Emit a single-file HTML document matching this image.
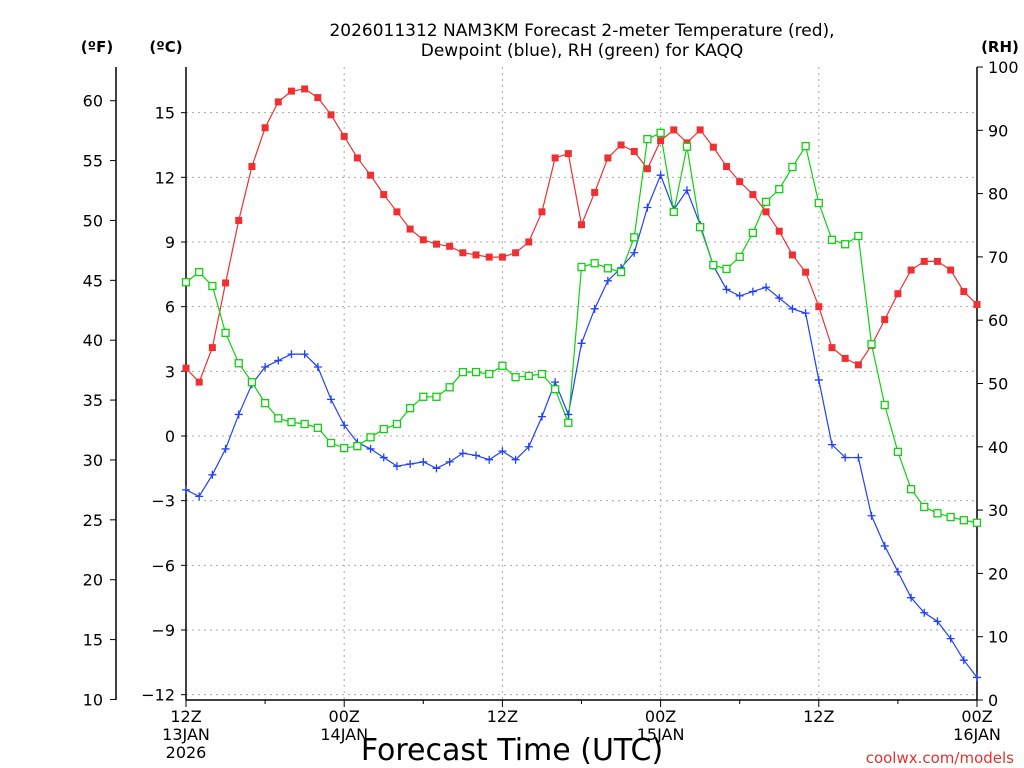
<!DOCTYPE html>
<html><head><meta charset="utf-8">
<style>
body{margin:0;background:#fff;}
svg{display:block;font-family:"DejaVu Sans","Liberation Sans",sans-serif;}
</style></head>
<body>
<svg id="chart" width="1024" height="768" viewBox="0 0 1024 768" xmlns="http://www.w3.org/2000/svg">
<rect width="1024" height="768" fill="#fff"/>
<text x="582" y="36" font-size="17" text-anchor="middle">2026011312 NAM3KM Forecast 2-meter Temperature (red),</text>
<text x="582" y="56" font-size="17" text-anchor="middle">Dewpoint (blue), RH (green) for KAQQ</text>
<text x="97" y="52" font-size="15" font-weight="bold" text-anchor="middle">(ºF)</text>
<text x="166" y="52" font-size="15" font-weight="bold" text-anchor="middle">(ºC)</text>
<text x="1000" y="52" font-size="15" font-weight="bold" text-anchor="middle">(RH)</text>
<text x="512" y="760" font-size="30" text-anchor="middle">Forecast Time (UTC)</text>
<text x="1014" y="763" font-size="15" fill="#e53030" text-anchor="end">coolwx.com/models</text>
<g id="grid"></g><g id="axes"></g><g id="series"></g>
</svg>
<script>
const hours = [0,1,2,3,4,5,6,7,8,9,10,11,12,13,14,15,16,17,18,19,20,21,22,23,24,25,26,27,28,29,30,31,32,33,34,35,36,37,38,39,40,41,42,43,44,45,46,47,48,49,50,51,52,53,54,55,56,57,58,59,60];
const tempC = [3.15,2.5,4.1,7.1,10.0,12.5,14.3,15.5,16.0,16.1,15.7,14.9,13.9,12.9,12.1,11.2,10.4,9.6,9.1,8.9,8.8,8.5,8.4,8.3,8.3,8.5,9.0,10.4,12.9,13.1,9.8,11.3,12.9,13.5,13.2,12.4,13.7,14.2,13.6,14.2,13.4,12.5,11.8,11.2,10.4,9.5,8.4,7.6,6.0,4.1,3.6,3.3,4.2,5.4,6.6,7.7,8.1,8.1,7.7,6.7,6.1];
const dewC = [-2.5,-2.8,-1.8,-0.6,1.0,2.4,3.2,3.5,3.8,3.8,3.2,1.7,0.5,-0.3,-0.6,-1.0,-1.4,-1.3,-1.2,-1.5,-1.2,-0.8,-0.9,-1.1,-0.7,-1.1,-0.5,0.9,2.5,1.0,4.3,5.9,7.2,7.8,8.5,10.6,12.1,10.5,11.4,9.8,7.9,6.8,6.5,6.7,6.9,6.4,5.9,5.7,2.6,-0.4,-1.0,-1.0,-3.7,-5.1,-6.3,-7.5,-8.2,-8.6,-9.4,-10.4,-11.2];
const rh = [66,67.6,65.4,58,53.2,50.2,46.9,44.5,43.9,43.6,43,40.6,39.8,40.1,41.5,42.8,43.6,46.1,47.9,47.9,49.4,51.8,51.8,51.5,52.8,51,51.2,51.5,49.1,43.8,68.4,69,68.2,67.6,73.1,88.6,89.6,77.1,87.4,74.7,68.7,68.1,70,73.8,78.7,80.7,84.2,87.5,78.5,72.7,72,73.3,56.2,46.6,39.2,33.3,30.5,29.5,28.9,28.4,28];
const cTicks = [15,12,9,6,3,0,-3,-6,-9,-12];
const fTicks = [60,55,50,45,40,35,30,25,20,15,10];
const rhTicks = [100,90,80,70,60,50,40,30,20,10,0];
const xTickHours = [0,12,24,36,48,60];
const xTickLabels = [["12Z","13JAN","2026"],["00Z","14JAN"],["12Z"],["00Z","15JAN"],["12Z"],["00Z","16JAN"]];

const NS="http://www.w3.org/2000/svg";
const L=186,R=977,T=67,B=700;
const xS=h=>L+(R-L)*h/60;
const yC=c=>436-c*(582/27);
const yF=f=>yC((f-32)*5/9);
const yRH=v=>B-(B-T)*v/100;
function mk(tag,parent,attrs){const e=document.createElementNS(NS,tag);for(const k in attrs)e.setAttribute(k,attrs[k]);parent.appendChild(e);return e;}
const grid=document.getElementById('grid'),axes=document.getElementById('axes'),ser=document.getElementById('series');

cTicks.forEach(c=>{
  const y=yC(c);
  const g=mk('line',grid,{x1:L,x2:R,y1:y,y2:y,stroke:'#aaa','stroke-dasharray':'2,4'});
  
  
  mk('line',axes,{x1:L-5,x2:L,y1:y,y2:y,stroke:'#000'});
  const t=mk('text',axes,{x:175,y:y+6,'font-size':16,'text-anchor':'end'});t.textContent=(c<0?'−'+(-c):c);
  
  
});
xTickHours.slice(1,5).forEach(h=>{
  const g=mk('line',grid,{x1:xS(h),x2:xS(h),y1:T,y2:B,stroke:'#aaa','stroke-dasharray':'2,4'});
  
  
});
fTicks.forEach(f=>{
  const y=yF(f);
  mk('line',axes,{x1:110,x2:116,y1:y,y2:y,stroke:'#000'});
  const t=mk('text',axes,{x:103,y:y+6,'font-size':16,'text-anchor':'end'});t.textContent=f;
  
  
});
rhTicks.forEach(v=>{
  const y=yRH(v);
  mk('line',axes,{x1:R,x2:R+6,y1:y,y2:y,stroke:'#000'});
  const t=mk('text',axes,{x:988,y:y+6,'font-size':16,'text-anchor':'start'});t.textContent=v;
  
  
});
for(let h=0;h<=60;h+=6){mk('line',axes,{x1:xS(h),x2:xS(h),y1:B,y2:B+(h%12?4:7),stroke:'#000'});}
xTickHours.forEach((h,i)=>{
  xTickLabels[i].forEach((s,j)=>{
    const t=mk('text',axes,{x:xS(h),y:722+j*18,'font-size':16,'text-anchor':'middle'});t.textContent=s;
    
    
  });
});
mk('line',axes,{x1:116,x2:116,y1:T,y2:B,stroke:'#000','stroke-width':1.5});
mk('line',axes,{x1:L,x2:L,y1:T,y2:B,stroke:'#000','stroke-width':1.5});
mk('line',axes,{x1:R,x2:R,y1:T,y2:B,stroke:'#000','stroke-width':1.5});
mk('line',axes,{x1:L,x2:R,y1:B,y2:B,stroke:'#000','stroke-width':1.5});

function line(vals,yf,color,name){
  const p=mk('polyline',ser,{points:vals.map((v,i)=>xS(hours[i])+','+yf(v)).join(' '),fill:'none',stroke:color,'stroke-width':1.2});
  
  
}
line(tempC,yC,'#f03030','temperature-line');
line(dewC,yC,'#2040ff','dewpoint-line');
line(rh,yRH,'#10d010','rh-line');
tempC.forEach((v,i)=>{
  const r=mk('rect',ser,{x:xS(hours[i])-3.5,y:yC(v)-3.5,width:7,height:7,fill:'#f03030'});
  
  
});
dewC.forEach((v,i)=>{
  const x=xS(hours[i]),y=yC(v);
  const g=mk('path',ser,{d:`M${x-4},${y}H${x+4}M${x},${y-4}V${y+4}`,stroke:'#2040ff','stroke-width':1.3});
  
  
});
rh.forEach((v,i)=>{
  const r=mk('rect',ser,{x:xS(hours[i])-3.5,y:yRH(v)-3.5,width:7,height:7,fill:'#fff',stroke:'#10d010','stroke-width':1.3});
  
  
});
</script>
</body></html>
